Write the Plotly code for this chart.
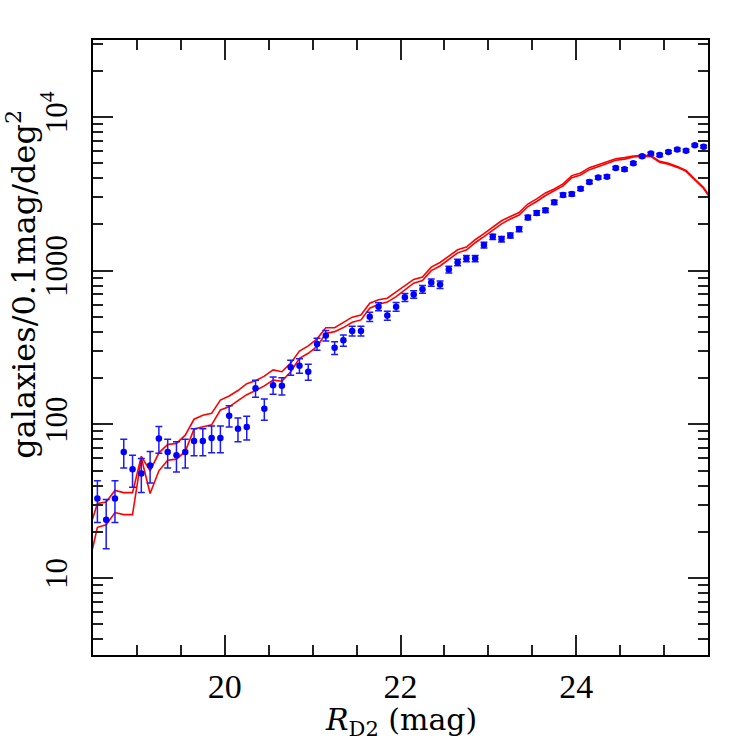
import plotly.graph_objects as go

FONT = "Liberation Serif"
TITLE_FONT = "DejaVu Serif"

# observed counts, 0.1 mag bins
mag = [18.55, 18.65, 18.75, 18.85, 18.95, 19.05, 19.15, 19.25, 19.35, 19.45,
       19.55, 19.65, 19.75, 19.85, 19.95, 20.05, 20.15, 20.25, 20.35, 20.45,
       20.55, 20.65, 20.75, 20.85, 20.95, 21.05, 21.15, 21.25, 21.35, 21.45,
       21.55, 21.65, 21.75, 21.85, 21.95, 22.05, 22.15, 22.25, 22.35, 22.45,
       22.55, 22.65, 22.75, 22.85, 22.95, 23.05, 23.15, 23.25, 23.35, 23.45,
       23.55, 23.65, 23.75, 23.85, 23.95, 24.05, 24.15, 24.25, 24.35, 24.45,
       24.55, 24.65, 24.75, 24.85, 24.95, 25.05, 25.15, 25.25, 25.35, 25.45]
counts = [33, 24, 33, 66, 51, 48, 54, 81, 66, 63,
          66, 78, 78, 81.5, 81.5, 114, 93.5, 96, 172, 126.5,
          180, 178, 235, 241, 220, 333, 378, 315, 352, 405,
          405, 502, 583, 510, 583, 670, 700, 757, 836, 811,
          1016, 1130, 1199, 1199, 1466, 1660, 1603, 1694, 1862, 2217,
          2372, 2466, 2780, 3107, 3150, 3411, 3777, 4028, 4085, 4655,
          4561, 4987, 5535, 5768, 5652, 5915, 6124, 6030, 6535, 6400]
count_err = [10, 8.5, 10, 14, 12, 12, 12.5, 16, 14, 14,
             14, 15.5, 15.5, 16, 16, 18, 16.5, 17, 22, 20,
             23, 23, 26, 26, 26, 30, 30, 30, 30, 30,
             30, 35, 35, 35, 38, 40, 40, 44, 46, 46,
             52, 55, 56, 56, 62, 66, 65, 66, 70, 76,
             78, 80, 85, 90, 90, 94, 98, 102, 102, 108,
             108, 112, 118, 120, 118, 122, 124, 124, 128, 126]

# model curves
model_mag = [18.45, 18.55, 18.65, 18.75, 18.85, 18.95, 19.05, 19.15, 19.25, 19.35,
             19.45, 19.55, 19.65, 19.75, 19.85, 19.95, 20.05, 20.15, 20.25, 20.35,
             20.45, 20.55, 20.65, 20.75, 20.85, 20.95, 21.05, 21.15, 21.25, 21.35,
             21.45, 21.55, 21.65, 21.75, 21.85, 21.95, 22.05, 22.15, 22.25, 22.35,
             22.45, 22.55, 22.65, 22.75, 22.85, 22.95, 23.05, 23.15, 23.25, 23.35,
             23.45, 23.55, 23.65, 23.75, 23.85, 23.95, 24.05, 24.15, 24.25, 24.35,
             24.45, 24.55, 24.65, 24.75, 24.85, 24.95, 25.05, 25.15, 25.25, 25.35,
             25.45, 25.55]
model_upper = [20, 30.6, 31.3, 37.2, 36, 36, 62, 49.9, 65.3, 74.1,
               75.2, 85.1, 108, 114.5, 118, 144, 153, 166, 184, 192,
               206, 226, 220, 250, 300, 324, 360, 425, 425, 458,
               498, 515, 614, 646, 662, 728, 803, 876, 907, 1054,
               1130, 1236, 1365, 1422, 1588, 1738, 1909, 2109, 2249, 2389,
               2711, 2926, 3200, 3397, 3664, 4150, 4315, 4677, 4886, 5093,
               5346, 5431, 5571, 5626, 5600, 5140, 4987, 4764, 4489, 3945,
               3476, 2870]
model_lower = [12, 21.4, 22.2, 26.7, 25.9, 25.9, 60.5, 35.5, 49.9, 58.5,
               59.4, 66.7, 93.5, 96.4, 99.3, 124, 130, 142.6, 156, 166,
               178, 194, 191, 220, 269, 290, 321, 390, 401, 426,
               461, 478, 570, 605, 624, 678, 750, 828, 861, 1000,
               1072, 1182, 1305, 1360, 1518, 1662, 1825, 2016, 2166, 2300,
               2611, 2818, 3082, 3295, 3554, 4026, 4186, 4537, 4778, 4981,
               5228, 5311, 5488, 5542, 5516, 5063, 4912, 4693, 4422, 3886,
               3424, 2830]

y_ticks = [10, 100, 1000, 10000]
y_ticktext = ["10", "100", "1000", "10<sup>4</sup>"]
y_minor = [4, 5, 6, 7, 8, 9, 20, 30, 40, 50, 60, 70, 80, 90,
           200, 300, 400, 500, 600, 700, 800, 900,
           2000, 3000, 4000, 5000, 6000, 7000, 8000, 9000, 20000, 30000]

fig = go.Figure()
for ys in (model_upper, model_lower):
    fig.add_trace(go.Scatter(x=model_mag, y=ys, mode="lines",
                             line=dict(color="#ff0000", width=1.6)))
fig.add_trace(go.Scatter(x=mag, y=counts, mode="markers",
                         marker=dict(color="#0000ff", size=6.5),
                         error_y=dict(type="data", array=count_err, color="#1a1aff",
                                      thickness=1.5, width=3.5)))

tick_style = dict(ticks="inside", ticklen=20, tickwidth=1.5, tickcolor="#222",
                  mirror="ticks", showline=True, linecolor="black", linewidth=2,
                  showgrid=False, zeroline=False, automargin=False)
fig.update_xaxes(range=[18.5, 25.5], tickvals=[20, 22, 24],
                 minor=dict(dtick=0.5, ticks="inside", ticklen=10, tickwidth=1.5,
                            tickcolor="#222", showgrid=False),
                 tickfont=dict(family=FONT, size=34, color="black"),
                 ticklabelstandoff=0, **tick_style)
fig.update_yaxes(type="log", range=[0.5, 4.5], tickvals=y_ticks, ticktext=y_ticktext,
                 tickangle=-90,
                 minor=dict(tickvals=y_minor, ticks="inside", ticklen=10, tickwidth=1.5,
                            tickcolor="#222", showgrid=False),
                 tickfont=dict(family=FONT, size=31, color="black"),
                 ticklabelstandoff=12, **tick_style)

fig.add_annotation(text="galaxies/0.1mag/deg<sup>2</sup>", xref="paper", yref="paper",
                   x=-0.117, y=0.602, xanchor="center", yanchor="middle",
                   textangle=-90, showarrow=False,
                   font=dict(family=TITLE_FONT, size=32, color="black"))
fig.add_annotation(text="<i>R</i><sub>D2</sub> (mag)", xref="paper", yref="paper",
                   x=0.5, y=-0.108, xanchor="center", yanchor="middle",
                   showarrow=False,
                   font=dict(family=TITLE_FONT, size=30, color="black"))

fig.update_layout(width=747, height=747, template="simple_white", showlegend=False,
                  margin=dict(l=93, r=39, t=40, b=92),
                  plot_bgcolor="white", paper_bgcolor="white")

# page body has a default margin; drop it so the figure sits at the window's corner
fig.write_html("out.html", config={"displayModeBar": False},
               post_script="document.body.style.margin='0';")
